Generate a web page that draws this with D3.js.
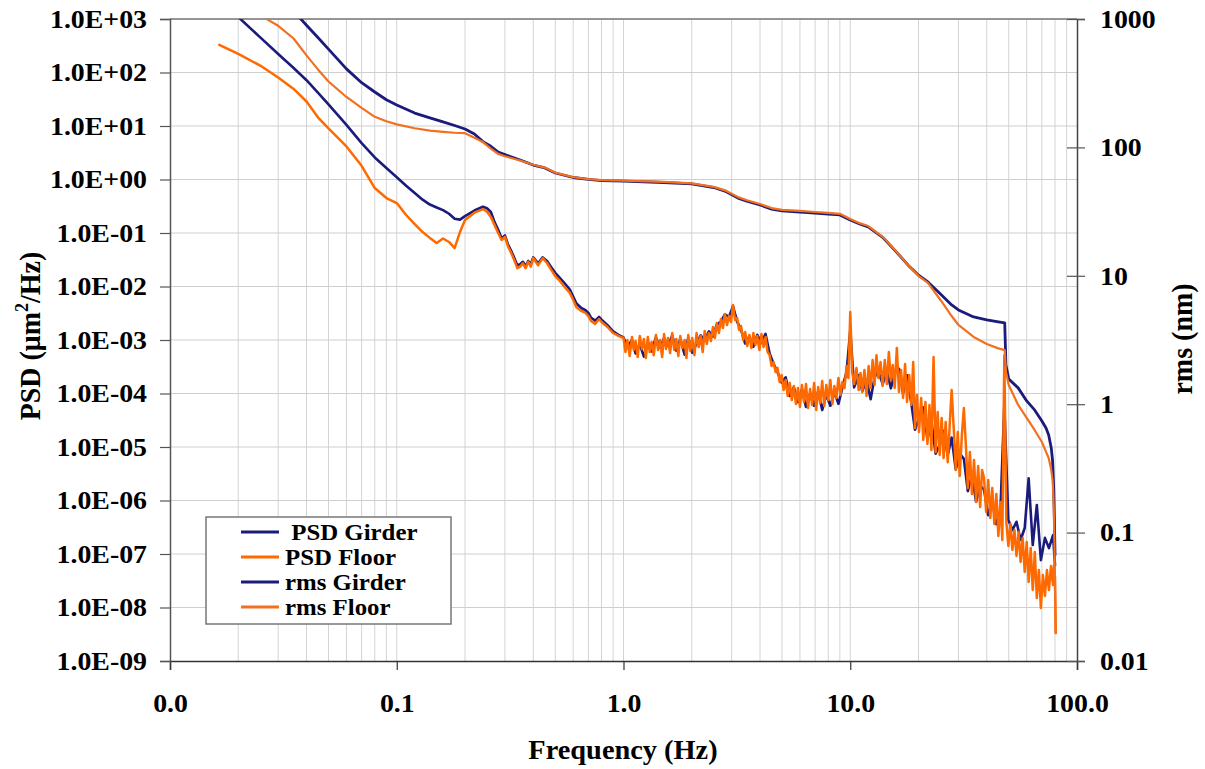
<!DOCTYPE html>
<html>
<head>
<meta charset="utf-8">
<script src="https://cdn.jsdelivr.net/npm/d3@7"></script>
<style>
  body { margin: 0; background: #fff; }
  text { font-family: "Liberation Serif", "Times New Roman", serif; font-weight: bold; fill: #000; }
</style>
</head>
<body>
<svg id="chart" width="1205" height="769"></svg>
<script>
// ---- PSD of the girder: frequency (Hz) and spectral density (um^2/Hz) ----
const psdGirderFreq = [
  0.0165, 0.02, 0.025, 0.03, 0.035, 0.04, 0.045, 0.05, 0.06, 0.07,
  0.08, 0.09, 0.1, 0.11, 0.12, 0.13, 0.14, 0.15, 0.16, 0.17,
  0.18, 0.19, 0.2, 0.22, 0.24, 0.25, 0.26, 0.27, 0.28, 0.29,
  0.3, 0.31, 0.32, 0.33, 0.34, 0.35, 0.36, 0.37, 0.38, 0.39,
  0.4, 0.42, 0.44, 0.46, 0.48, 0.5, 0.52, 0.55, 0.58, 0.6,
  0.62, 0.65, 0.68, 0.7, 0.72, 0.75, 0.78, 0.8, 0.85, 0.9, 0.95,
  1.00, 1.04, 1.09, 1.13, 1.18, 1.23, 1.28, 1.33, 1.39, 1.45,
  1.51, 1.57, 1.64, 1.71, 1.78, 1.86, 1.93, 2.01, 2.10, 2.19,
  2.28, 2.38, 2.48, 2.58, 2.69, 2.80, 2.92, 3.04, 3.17, 3.30,
  3.44, 3.59, 3.74, 3.89, 4.06, 4.23, 4.41, 4.59, 4.78, 4.98,
  5.19, 5.41, 5.64, 5.88, 6.12, 6.38, 6.65, 6.93, 7.22, 7.52,
  7.84, 8.17, 8.51, 8.87, 9.24, 9.63, 10.0,
  10.4, 10.9, 11.3, 11.8, 12.3, 12.8, 13.3, 13.9, 14.5, 15.1,
  15.7, 16.4, 17.1, 17.8, 18.6, 19.3, 20.1, 21.0, 21.9, 22.8,
  23.8, 24.8, 25.8, 26.9, 28.0, 29.2, 30.4, 31.7, 33.0, 34.4,
  35.9, 37.4, 38.9, 40.6, 42.3, 44.1, 45.9, 47.8, 49.8, 51.9,
  54.1, 56.4, 58.8, 61.2, 63.8, 66.5, 69.3, 72.2, 75.2, 78.4,
  80.0, 80.6
];
const psdGirder = [
  null, 1090, 453, 221, 123, 71.8, 41.6, 25.4, 10.5, 4.77,
  2.58, 1.64, 1.1, 0.765, 0.559, 0.42, 0.34, 0.30, 0.268, 0.229,
  0.184, 0.178, 0.207, 0.263, 0.31, 0.29, 0.247, 0.16, 0.115, 0.08,
  0.09, 0.06, 0.046, 0.034, 0.025, 0.026, 0.029, 0.024, 0.03, 0.026,
  0.035, 0.027, 0.035, 0.03, 0.023, 0.018, 0.015, 0.0115, 0.0088, 0.0065,
  0.0048, 0.0040, 0.0036, 0.0032, 0.0026, 0.0023, 0.0027, 0.0024, 0.0019, 0.00145, 0.00125,
  1.12e-3, 7.3e-4, 1.0e-3, 5.6e-4, 8.3e-4, 4.9e-4, 9.2e-4, 6.1e-4, 1.12e-3, 7.2e-4,
  1.08e-3, 7.8e-4, 1.22e-3, 6.3e-4, 1.05e-3, 5.3e-4, 1.1e-3, 5.8e-4, 8.6e-4, 1.22e-3,
  9.8e-4, 1.45e-3, 1.16e-3, 1.95e-3, 2.2e-3, 3.0e-3, 2.7e-3, 4.3e-3, 2.2e-3, 1.55e-3,
  8.6e-4, 1.17e-3, 7.5e-4, 1.25e-3, 8.8e-4, 1.3e-3, 5.6e-4, 3.6e-4, 2.5e-4, 1.6e-4,
  2.0e-4, 9.0e-5, 1.3e-4, 6.9e-5, 1.2e-4, 5.6e-5, 1.0e-4, 5.9e-5, 1.1e-4, 4.9e-5,
  9.5e-5, 5.9e-5, 1.05e-4, 6.4e-5, 1.3e-4, 2.5e-4, 1.5e-3,
  1.3e-4, 2.2e-4, 1.1e-4, 1.8e-4, 7.8e-5, 2.0e-4, 2.6e-4, 1.5e-4, 2.6e-4, 1.25e-4,
  2.4e-4, 2.9e-4, 1.0e-4, 2.2e-4, 6.5e-5, 2.1e-5, 3.5e-5, 5.5e-5, 1.4e-5, 3.0e-5,
  7.5e-6, 1.1e-5, 2.0e-5, 7.0e-6, 1.5e-5, 3.8e-6, 7.5e-6, 6.0e-6, 1.5e-6, 3.0e-6,
  9.5e-7, 1.9e-6, 1.6e-6, 5.3e-7, 9.5e-7, 3.6e-7, 5.6e-7, 6.1e-5, 4.3e-7, 2.8e-7,
  4.0e-7, 1.83e-7, 3.06e-7, 2.6e-6, 1.47e-7, 8.2e-7, 7.7e-8, 2.0e-7, 1.29e-7, 2.26e-7,
  6.2e-8, null
];

// ---- PSD of the floor: frequency (Hz) and spectral density (um^2/Hz) ----
const psdFloorFreq = [
  0.0165, 0.02, 0.025, 0.03, 0.035, 0.04, 0.045, 0.05, 0.06, 0.07,
  0.08, 0.09, 0.1, 0.11, 0.12, 0.13, 0.14, 0.15, 0.16, 0.17,
  0.18, 0.19, 0.2, 0.22, 0.24, 0.25, 0.26, 0.27, 0.28, 0.29,
  0.3, 0.31, 0.32, 0.33, 0.34, 0.35, 0.36, 0.37, 0.38, 0.39,
  0.4, 0.42, 0.44, 0.46, 0.48, 0.5, 0.52, 0.55, 0.58, 0.6,
  0.62, 0.65, 0.68, 0.7, 0.72, 0.75, 0.78, 0.8, 0.85, 0.9, 0.95,
  1.00, 1.02, 1.04, 1.065, 1.09, 1.11, 1.13, 1.155, 1.18, 1.205,
  1.23, 1.255, 1.28, 1.305, 1.33, 1.36, 1.39, 1.42, 1.45, 1.48,
  1.51, 1.54, 1.57, 1.605, 1.64, 1.675, 1.71, 1.745, 1.78, 1.82,
  1.86, 1.895, 1.93, 1.97, 2.01, 2.055, 2.10, 2.145, 2.19, 2.235,
  2.28, 2.33, 2.38, 2.43, 2.48, 2.53, 2.58, 2.635, 2.69, 2.745,
  2.80, 2.86, 2.92, 2.98, 3.04, 3.105, 3.17, 3.235, 3.30, 3.37,
  3.44, 3.515, 3.59, 3.665, 3.74, 3.815, 3.89, 3.975, 4.06, 4.145,
  4.23, 4.32, 4.41, 4.5, 4.59, 4.685, 4.78, 4.88, 4.98, 5.085,
  5.19, 5.3, 5.41, 5.525, 5.64, 5.76, 5.88, 6.0, 6.12, 6.25,
  6.38, 6.515, 6.65, 6.79, 6.93, 7.075, 7.22, 7.37, 7.52, 7.68,
  7.84, 8.005, 8.17, 8.34, 8.51, 8.69, 8.87, 9.055, 9.24, 9.435,
  9.63, 9.815, 10.0, 10.2, 10.4, 10.65, 10.9, 11.1, 11.3, 11.55,
  11.8, 12.05, 12.3, 12.55, 12.8, 13.05, 13.3, 13.6, 13.9, 14.2,
  14.5, 14.8, 15.1, 15.4, 15.7, 16.05, 16.4, 16.75, 17.1, 17.45,
  17.8, 18.2, 18.6, 18.95, 19.3, 19.7, 20.1, 20.55, 21.0, 21.45,
  21.9, 22.35, 22.8, 23.3, 23.8, 24.3, 24.8, 25.3, 25.8, 26.35,
  26.9, 27.45, 28.0, 28.6, 29.2, 29.8, 30.4, 31.05, 31.7, 32.35,
  33.0, 33.7, 34.4, 35.15, 35.9, 36.65, 37.4, 38.15, 38.9, 39.75,
  40.6, 41.45, 42.3, 43.2, 44.1, 45.0, 45.9, 46.85, 47.8, 48.8,
  49.8, 50.85, 51.9, 53.0, 54.1, 55.25, 56.4, 57.6, 58.8, 60.0,
  61.2, 62.5, 63.8, 65.15, 66.5, 67.9, 69.3, 70.75, 72.2, 73.7,
  75.2, 76.8, 78.4, 79.2, 80.0, 80.6
];
const psdFloor = [
  330, 222, 135, 80.5, 49.8, 28.7, 14.4, 9.0, 4.15, 1.8,
  0.693, 0.451, 0.363, 0.217, 0.147, 0.104, 0.081, 0.065, 0.079, 0.068,
  0.052, 0.104, 0.175, 0.24, 0.28, 0.25, 0.2, 0.141, 0.1, 0.074,
  0.085, 0.055, 0.042, 0.031, 0.022, 0.0235, 0.0271, 0.022, 0.029, 0.0235,
  0.034, 0.025, 0.034, 0.0275, 0.0204, 0.0157, 0.0132, 0.0098, 0.0076, 0.0056,
  0.0041, 0.0035, 0.0032, 0.0028, 0.00226, 0.002, 0.00247, 0.00217, 0.00175, 0.00135, 0.00119,
  1.09e-3, 5.96e-4, 1.0e-3, 5.0e-4, 1.14e-3, 6.5e-4, 9.57e-4, 4.8e-4, 1.19e-3, 6.8e-4,
  1.04e-3, 4.6e-4, 1.14e-3, 5.96e-4, 9.2e-4, 5.2e-4, 1.24e-3, 6.5e-4, 1.0e-3, 4.8e-4,
  1.29e-3, 6.8e-4, 1.09e-3, 5.7e-4, 1.35e-3, 6.5e-4, 1.04e-3, 5.0e-4, 1.19e-3, 7.1e-4,
  1.0e-3, 4.6e-4, 1.24e-3, 6.2e-4, 1.09e-3, 5.2e-4, 1.35e-3, 7.4e-4, 1.19e-3, 5.96e-4,
  1.47e-3, 8.4e-4, 1.35e-3, 9.6e-4, 1.75e-3, 1.09e-3, 2.08e-3, 1.35e-3, 2.47e-3, 1.68e-3,
  3.06e-3, 1.91e-3, 2.81e-3, 2.17e-3, 4.51e-3, 2.36e-3, 2.58e-3, 1.54e-3, 1.83e-3, 1.0e-3,
  1.41e-3, 7.7e-4, 1.24e-3, 7.1e-4, 1.35e-3, 8.1e-4, 1.19e-3, 6.5e-4, 1.29e-3, 7.4e-4,
  1.14e-3, 5.96e-4, 5.2e-4, 3.26e-4, 3.87e-4, 2.52e-4, 3.0e-4, 1.64e-4, 2.22e-4, 1.16e-4,
  1.79e-4, 8.97e-5, 1.57e-4, 7.55e-5, 1.38e-4, 6.36e-5, 1.27e-4, 5.59e-5, 1.44e-4, 6.93e-5,
  1.5e-4, 5.35e-5, 1.21e-4, 6.09e-5, 1.57e-4, 4.91e-5, 1.32e-4, 6.64e-5, 1.71e-4, 5.83e-5,
  1.44e-4, 7.55e-5, 1.79e-4, 6.36e-5, 1.38e-4, 8.23e-5, 1.95e-4, 9.37e-5, 1.64e-4, 1.27e-4,
  3.26e-4, 1.95e-4, 3.33e-3, 2.52e-4, 1.5e-4, 3.0e-4, 1.16e-4, 2.42e-4, 1.07e-4, 2.75e-4,
  8.97e-5, 3.26e-4, 1.27e-4, 4.23e-4, 1.44e-4, 5.2e-4, 1.95e-4, 3.87e-4, 1.38e-4, 4.23e-4,
  1.5e-4, 5.96e-4, 1.79e-4, 3.4e-4, 1.27e-4, 7.1e-4, 1.07e-4, 2.75e-4, 8.23e-5, 3.56e-4,
  6.93e-5, 2.22e-4, 6.09e-5, 3.87e-4, 2.26e-5, 9.37e-5, 1.91e-5, 8.23e-5, 1.35e-5, 6.93e-5,
  1.14e-5, 6.09e-5, 8.8e-6, 4.8e-4, 8.1e-6, 4.51e-5, 7.1e-6, 3.48e-5, 6.2e-6, 2.93e-5,
  5.2e-6, 2.58e-5, 1.16e-4, 2.26e-5, 3.71e-6, 1.91e-5, 2.87e-6, 1.61e-5, 5.35e-5, 1.09e-5,
  1.71e-6, 8.1e-6, 1.32e-6, 5.7e-6, 9.37e-7, 4.4e-6, 7.55e-7, 3.71e-6, 2.63e-6, 6.09e-7,
  2.42e-6, 4.7e-7, 1.71e-6, 3.63e-7, 1.32e-6, 2.17e-7, 9.37e-7, 1.83e-7, 5.2e-4, 3.96e-7,
  1.41e-7, 3.63e-7, 1.19e-7, 2.81e-7, 9.2e-8, 2.58e-7, 7.1e-8, 1.99e-7, 4.6e-8, 1.68e-7,
  3.0e-8, 1.29e-7, 2.12e-8, 1.09e-7, 1.5e-8, 5.0e-8, 9.8e-9, 4.05e-8, 1.64e-8, 5.0e-8,
  2.12e-8, 5.96e-8, 2.63e-8, 6.2e-8, 3.56e-8, 3.33e-9
];

// ---- Integrated rms displacement (nm), right axis ----
const rmsFreq = [
  0.025, 0.03, 0.035, 0.04, 0.045, 0.05, 0.06, 0.07, 0.08, 0.09,
  0.1, 0.12, 0.14, 0.16, 0.18, 0.2, 0.22, 0.24, 0.26, 0.28,
  0.3, 0.35, 0.4, 0.45, 0.5, 0.6, 0.7, 0.8, 1.0, 1.5,
  2.0, 2.5, 2.8, 3.2, 3.5, 4.0, 4.5, 5, 6, 7,
  8, 9, 10, 11, 12, 14, 16, 18, 20, 22,
  25, 28, 30, 35, 40, 45, 48, 48.6, 50, 55,
  60, 65, 70, 73, 75, 77, 78, 78.5, 79, 79.5,
  80, 80.5
];
const rmsGirder = [
  null, null, 1156, 895, 714, 583, 409, 319, 270, 235,
  214, 185, 170, 158, 148, 139, 127, 111, 102, 91.9,
  87.9, 79.8, 72.9, 69.2, 63.2, 58.3, 56.3, 55.2, 54.7, 53.3,
  51.9, 48.7, 45.7, 40.3, 38.2, 35.6, 33.1, 32.0, 31.4, 30.8,
  30.3, 29.8, 27.2, 25.3, 24.0, 19.7, 15.3, 12.1, 10.1, 8.95,
  7.21, 5.93, 5.42, 4.78, 4.53, 4.37, 4.29, 2.02, 1.57, 1.34,
  1.06, 0.902, 0.740, 0.653, 0.576, 0.456, 0.367, 0.281, 0.215, 0.125,
  0.067, null
];
const rmsFloor = [
  1069, 885, 708, 521, 403, 326, 247, 203, 173, 160,
  151, 141, 135, 132, 130, 129, 119, 110, 97.9, 89.0,
  85.3, 79.0, 73.3, 69.6, 63.6, 58.7, 56.7, 55.6, 55.1, 53.8,
  52.4, 49.3, 46.3, 41.0, 38.8, 36.2, 33.7, 32.6, 32.0, 31.4,
  30.9, 30.4, 27.7, 25.7, 24.4, 19.9, 15.4, 12.1, 10.0, 8.8,
  6.48, 4.86, 4.14, 3.34, 2.94, 2.72, 2.64, 1.78, 1.41, 0.987,
  0.782, 0.630, 0.508, 0.425, 0.381, 0.307, 0.257, 0.215, 0.15, 0.0875,
  0.0357, 0.0165
];

// ---- Axis ticks and labels ----
const freqTicks = [0.01, 0.1, 1, 10, 100];
const freqTickLabels = ["0.0", "0.1", "1.0", "10.0", "100.0"];
const psdTicks = [1e-9, 1e-8, 1e-7, 1e-6, 1e-5, 1e-4, 1e-3, 1e-2, 1e-1, 1e0, 1e1, 1e2, 1e3];
const psdTickLabels = ["1.0E-09", "1.0E-08", "1.0E-07", "1.0E-06", "1.0E-05", "1.0E-04",
  "1.0E-03", "1.0E-02", "1.0E-01", "1.0E+00", "1.0E+01", "1.0E+02", "1.0E+03"];
const rmsTicks = [0.01, 0.1, 1, 10, 100, 1000];
const rmsTickLabels = ["0.01", "0.1", "1", "10", "100", "1000"];

const seriesNames = [" PSD Girder", "PSD Floor", "rms Girder", "rms Floor"];
const seriesColors = ["#1b1b7c", "#ff6a00", "#1b1b7c", "#f2701f"];

// ---- Layout ----
const W = 1205, H = 769;
const P = { left: 170, right: 1077, top: 19, bottom: 661 };

const x = d3.scaleLog().domain([0.01, 100]).range([P.left, P.right]);
const yPsd = d3.scaleLog().domain([1e-9, 1e3]).range([P.bottom, P.top]);
const yRms = d3.scaleLog().domain([0.01, 1000]).range([P.bottom, P.top]);

const svg = d3.select("#chart");
svg.append("rect").attr("width", W).attr("height", H).attr("fill", "#fff");

svg.append("defs").append("clipPath").attr("id", "plotClip")
  .append("rect")
  .attr("x", P.left).attr("y", P.top)
  .attr("width", P.right - P.left).attr("height", P.bottom - P.top);

// Widen a text run horizontally by factor k
function widen(sel, k) {
  sel.each(function () {
    const len = this.getComputedTextLength();
    d3.select(this).attr("textLength", len * k).attr("lengthAdjust", "spacingAndGlyphs");
  });
}

// Gridlines: every decade horizontally, 1..9 subdivisions vertically
const gridG = svg.append("g");
const vGrid = [];
[0.01, 0.1, 1, 10].forEach(dec => { for (let m = 1; m <= 9; m++) vGrid.push(dec * m); });
gridG.selectAll("line.v").data(vGrid.filter(v => v > 0.01)).join("line")
  .attr("x1", d => x(d)).attr("x2", d => x(d))
  .attr("y1", P.top).attr("y2", P.bottom)
  .attr("stroke", "#d4d4d4").attr("stroke-width", 1);
gridG.selectAll("line.h").data(psdTicks.slice(1)).join("line")
  .attr("x1", P.left).attr("x2", P.right)
  .attr("y1", d => yPsd(d)).attr("y2", d => yPsd(d))
  .attr("stroke", "#cfcfcf").attr("stroke-width", 1);

// Top frame line
svg.append("line").attr("x1", P.left).attr("x2", P.right).attr("y1", P.top).attr("y2", P.top)
  .attr("stroke", "#7a7a7a").attr("stroke-width", 1.5);

// ---- Series (drawn in legend order) ----
const series = [
  { freq: psdGirderFreq, vals: psdGirder, y: yPsd, color: seriesColors[0], w: 2.6 },
  { freq: psdFloorFreq, vals: psdFloor, y: yPsd, color: seriesColors[1], w: 2.5 },
  { freq: rmsFreq, vals: rmsGirder, y: yRms, color: seriesColors[2], w: 2.8 },
  { freq: rmsFreq, vals: rmsFloor, y: yRms, color: seriesColors[3], w: 2.2 }
];

const linesG = svg.append("g").attr("clip-path", "url(#plotClip)");
series.forEach(s => {
  const pts = s.freq.map((f, i) => [f, s.vals[i]]);
  const line = d3.line()
    .defined(d => d[1] != null)
    .x(d => x(d[0]))
    .y(d => s.y(d[1]));
  linesG.append("path")
    .attr("d", line(pts))
    .attr("fill", "none")
    .attr("stroke", s.color)
    .attr("stroke-width", s.w)
    .attr("stroke-linejoin", "round")
    .attr("stroke-linecap", "round");
});

// ---- Axes ----
const tickFont = 26;
const stretch = 1.07;

const gx = svg.append("g").attr("transform", `translate(0,${P.bottom})`)
  .call(d3.axisBottom(x).tickValues(freqTicks)
    .tickFormat((d, i) => freqTickLabels[i]).tickSize(9).tickPadding(0));
gx.select(".domain").attr("stroke", "#333").attr("stroke-width", 1.5);
gx.selectAll(".tick line").attr("stroke", "#333").attr("stroke-width", 1.2);
gx.selectAll(".tick text").attr("y", 51).attr("dy", 0)
  .style("font-size", tickFont + "px").attr("fill", "#000").call(widen, stretch);

const gl = svg.append("g").attr("transform", `translate(${P.left},0)`)
  .call(d3.axisLeft(yPsd).tickValues(psdTicks)
    .tickFormat((d, i) => psdTickLabels[i]).tickSize(10).tickPadding(13));
gl.select(".domain").attr("stroke", "#555").attr("stroke-width", 1.5);
gl.selectAll(".tick line").attr("stroke", "#555").attr("stroke-width", 1.2);
gl.selectAll(".tick text").style("font-size", tickFont + "px").attr("fill", "#000").call(widen, stretch);

const gr = svg.append("g").attr("transform", `translate(${P.right},0)`)
  .call(d3.axisRight(yRms).tickValues(rmsTicks)
    .tickFormat((d, i) => rmsTickLabels[i]).tickSize(8).tickPadding(15));
gr.select(".domain").attr("stroke", "#444").attr("stroke-width", 1.5);
gr.selectAll(".tick line").attr("x1", -10).attr("stroke", "#555").attr("stroke-width", 1.2);
gr.selectAll(".tick text").style("font-size", tickFont + "px").attr("fill", "#000").call(widen, stretch);

// ---- Axis titles ----
svg.append("text")
  .attr("x", 623).attr("y", 759)
  .attr("text-anchor", "middle")
  .style("font-size", "27px")
  .text("Frequency (Hz)")
  .call(widen, 1.05);

const psdTitle = svg.append("text")
  .attr("transform", "translate(40,336) scale(1.07,1) rotate(-90)")
  .attr("text-anchor", "middle")
  .style("font-size", "28px");
psdTitle.append("tspan").text("PSD (\u03bcm");
psdTitle.append("tspan").attr("dy", -11).style("font-size", "18px").text("2");
psdTitle.append("tspan").attr("dy", 11).text("/Hz)");

svg.append("text")
  .attr("transform", "translate(1192,339) scale(1.07,1) rotate(-90)")
  .attr("text-anchor", "middle")
  .style("font-size", "28px")
  .text("rms (nm)");

// ---- Legend ----
const lg = svg.append("g");
lg.append("rect")
  .attr("x", 206).attr("y", 517).attr("width", 245).attr("height", 107)
  .attr("fill", "#fff").attr("stroke", "#777").attr("stroke-width", 1.5);
seriesNames.forEach((name, i) => {
  const yy = 532 + i * 25;
  lg.append("line")
    .attr("x1", 241).attr("x2", 279).attr("y1", yy).attr("y2", yy)
    .attr("stroke", seriesColors[i]).attr("stroke-width", 3);
  lg.append("text")
    .attr("x", 285).attr("y", yy + 8)
    .style("font-size", "23px")
    .style("white-space", "pre")
    .attr("xml:space", "preserve")
    .text(name)
    .call(widen, 1.08);
});
</script>
</body>
</html>
